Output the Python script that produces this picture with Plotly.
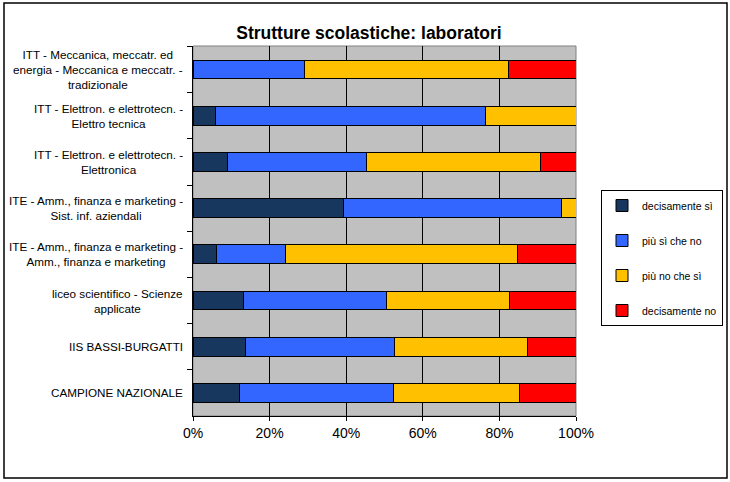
import plotly.graph_objects as go

# categories, top to bottom
categorie = [
    "ITT - Meccanica, meccatr. ed<br>energia - Meccanica e meccatr. -<br>tradizionale",
    "ITT - Elettron. e elettrotecn. -<br>Elettro tecnica",
    "ITT - Elettron. e elettrotecn. -<br>Elettronica",
    "ITE - Amm., finanza e marketing -<br>Sist. inf. aziendali",
    "ITE - Amm., finanza e marketing -<br>Amm., finanza e marketing",
    "liceo scientifico - Scienze<br>applicate",
    "IIS BASSI-BURGATTI",
    "CAMPIONE NAZIONALE",
]

# percent shares
decisamente_si = [0.0, 6.0, 9.1, 39.3, 6.2, 13.2, 13.8, 12.1]
piu_si_che_no = [29.2, 70.3, 36.2, 57.0, 18.0, 37.3, 38.9, 40.3]
piu_no_che_si = [53.1, 23.7, 45.5, 3.7, 60.5, 32.1, 34.6, 32.8]
decisamente_no = [17.7, 0.0, 9.2, 0.0, 15.3, 17.4, 12.7, 14.8]

serie = [
    ("decisamente sì", decisamente_si, "#17375E"),
    ("più sì che no", piu_si_che_no, "#3366FF"),
    ("più no che sì", piu_no_che_si, "#FFC000"),
    ("decisamente no", decisamente_no, "#FF0000"),
]

FONT = "Liberation Sans, Arial, sans-serif"

fig = go.Figure()
for i, (nome, valori, colore) in enumerate(serie):
    fig.add_trace(go.Bar(
        y=categorie,
        x=[v / 100 for v in valori],
        name=nome,
        orientation="h",
        marker=dict(color=colore, line=dict(color="black", width=1)),
        legendgroup="g%d" % i,
    ))

# category labels, centred line by line like Excel
for c in categorie:
    fig.add_annotation(
        x=-0.02, xref="paper", y=c, yref="y",
        text=c, showarrow=False, xanchor="right", align="center",
        font=dict(family=FONT, size=11.7, color="black"),
    )

fig.update_layout(
    width=730, height=482,
    barmode="stack", bargap=0.59,
    paper_bgcolor="white", plot_bgcolor="#C0C0C0",
    margin=dict(l=193, r=154, t=46, b=66, autoexpand=False),
    title=dict(text="<b>Strutture scolastiche: laboratori</b>",
               x=(369 - 193) / 383, xref="paper", xanchor="center",
               y=(482 - 33) / 482, yanchor="middle",
               font=dict(family=FONT, size=17.5, color="black")),
    legend=dict(
        x=(601 - 193) / 383, y=(416 - 190) / 370, xanchor="left", yanchor="top",
        bgcolor="white", bordercolor="black", borderwidth=1,
        font=dict(family=FONT, size=10.5, color="black"),
        traceorder="grouped", tracegroupgap=16,
        itemwidth=30,
    ),
    xaxis=dict(
        range=[0, 1], dtick=0.2, tickformat=".0%",
        showgrid=True, gridcolor="black", gridwidth=1,
        showline=True, linecolor="black", linewidth=1,
        ticks="outside", ticklen=4, tickcolor="black",
        tickfont=dict(family=FONT, size=14, color="black"),
        zeroline=False, fixedrange=True,
    ),
    yaxis=dict(
        autorange="reversed", showticklabels=False,
        showline=True, linecolor="black", linewidth=1,
        ticks="outside", ticklen=5, tickcolor="black",
        tickson="boundaries", showgrid=False, fixedrange=True,
    ),
    shapes=[
        # grey top/right edge of the plot area
        dict(type="rect", xref="paper", yref="paper", x0=0, x1=1, y0=0, y1=1,
             line=dict(color="#808080", width=1), layer="below"),
        # outer chart border
        dict(type="rect", xref="paper", yref="paper",
             x0=(4 - 193) / 383, x1=(727 - 193) / 383,
             y0=(416 - 478) / 370, y1=(416 - 3) / 370,
             line=dict(color="black", width=1.5)),
    ],
)

# drop the default 8px page margin so the figure sits at the window corner
fig.write_html("out.html", config={"displayModeBar": False},
               post_script="document.body.style.margin='0';")
